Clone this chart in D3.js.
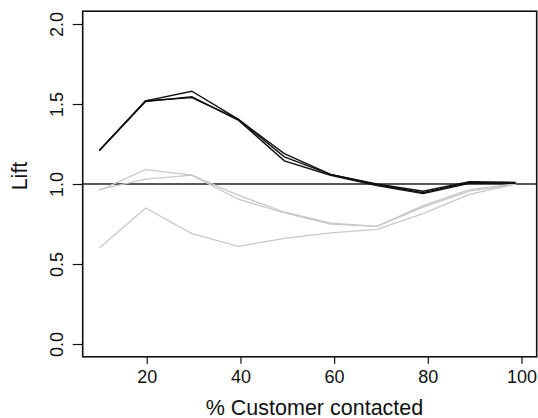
<!DOCTYPE html>
<html>
<head>
<meta charset="utf-8">
<script src="https://cdn.jsdelivr.net/npm/d3@7"></script>
<style>
  html, body { margin: 0; padding: 0; background: #fff; }
  svg { display: block; font-family: "Liberation Sans", Arial, Helvetica, sans-serif; }
</style>
</head>
<body>
<svg id="chart" width="538" height="418"></svg>
<script>
// ---- data ----
const xValues = [9.87, 19.75, 29.62, 39.5, 49.37, 59.24, 69.12, 78.99, 88.87, 98.74];
const blackSeries1 = [1.21, 1.52, 1.58, 1.405, 1.19, 1.06, 1.0, 0.955, 1.015, 1.01];
const blackSeries2 = [1.21, 1.52, 1.54, 1.405, 1.17, 1.06, 0.995, 0.945, 1.01, 1.005];
const blackSeries3 = [1.21, 1.515, 1.545, 1.40, 1.145, 1.055, 0.99, 0.94, 1.005, 1.005];
const greySeries1 = [0.96, 1.09, 1.055, 0.93, 0.825, 0.755, 0.735, 0.865, 0.965, 1.0];
const greySeries2 = [0.965, 1.03, 1.055, 0.905, 0.82, 0.75, 0.735, 0.855, 0.955, 1.0];
const greySeries3 = [0.60, 0.85, 0.69, 0.61, 0.66, 0.695, 0.717, 0.815, 0.935, 1.0];
const xTicks = [20, 40, 60, 80, 100];
const yTicks = [0.0, 0.5, 1.0, 1.5, 2.0];
const referenceLift = 1.0;
const xTitle = "% Customer contacted";
const yTitle = "Lift";

// ---- layout ----
const plotLeft = 82.7, plotRight = 536.7, plotTop = 11.2, plotBottom = 356.8;
const svg = d3.select("#chart");
const x = d3.scaleLinear().domain([6.32, 103.25]).range([plotLeft, plotRight]);
const y = d3.scaleLinear().domain([-0.08, 2.08]).range([plotBottom, plotTop]);

const line = d3.line().x((d, i) => x(xValues[i])).y(d => y(d));

const greys = [greySeries1, greySeries2, greySeries3];
const blacks = [blackSeries1, blackSeries2, blackSeries3];

// reference line
svg.append("line")
  .attr("x1", plotLeft).attr("x2", plotRight)
  .attr("y1", y(referenceLift)).attr("y2", y(referenceLift))
  .attr("stroke", "#222").attr("stroke-width", 1.3);

svg.selectAll("path.grey").data(greys).enter().append("path")
  .attr("class", "grey")
  .attr("d", line)
  .attr("fill", "none")
  .attr("stroke", "#c8c8c8")
  .attr("stroke-width", 1.3);

svg.selectAll("path.black").data(blacks).enter().append("path")
  .attr("class", "black")
  .attr("d", line)
  .attr("fill", "none")
  .attr("stroke", "#111")
  .attr("stroke-width", 1.4);

// box
svg.append("rect")
  .attr("x", plotLeft).attr("y", plotTop)
  .attr("width", plotRight - plotLeft).attr("height", plotBottom - plotTop)
  .attr("fill", "none").attr("stroke", "#111").attr("stroke-width", 1.6);

// x axis
const xAxis = svg.append("g")
  .attr("transform", `translate(0,${plotBottom})`)
  .call(d3.axisBottom(x).tickValues(xTicks).tickFormat(d3.format("d")).tickSize(7).tickPadding(6));
xAxis.select(".domain").remove();
xAxis.selectAll(".tick line").attr("stroke", "#111").attr("stroke-width", 1.2);
xAxis.selectAll(".tick text")
  .attr("dy", null).attr("y", 26)
  .attr("fill", "#111")
  .style("font-size", "18px")
  .style("font-family", "'Liberation Sans', Arial, sans-serif");

// y axis
const yAxis = svg.append("g")
  .attr("transform", `translate(${plotLeft},0)`)
  .call(d3.axisLeft(y).tickValues(yTicks).tickFormat(d3.format(".1f")).tickSize(10));
yAxis.select(".domain").remove();
yAxis.selectAll(".tick line").attr("stroke", "#111").attr("stroke-width", 1.2);
yAxis.selectAll(".tick text")
  .attr("x", null).attr("dy", null)
  .attr("text-anchor", "middle")
  .attr("transform", `translate(${62.7 - plotLeft},0) rotate(-90)`)
  .attr("fill", "#111")
  .style("font-size", "18px")
  .style("font-family", "'Liberation Sans', Arial, sans-serif");

// titles
svg.append("text")
  .attr("x", 314.5).attr("y", 414.5)
  .attr("text-anchor", "middle")
  .attr("fill", "#111")
  .style("font-size", "21.5px")
  .text(xTitle);

svg.append("text")
  .attr("transform", `translate(26.7,176) rotate(-90)`)
  .attr("text-anchor", "middle")
  .attr("fill", "#111")
  .style("font-size", "21.5px")
  .text(yTitle);
</script>
</body>
</html>
